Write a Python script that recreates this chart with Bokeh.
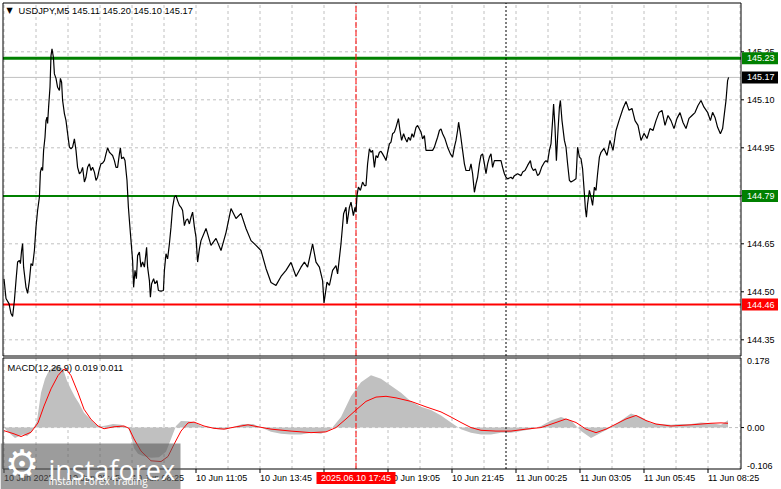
import math
from bokeh.plotting import figure
from bokeh.models import Range1d
from bokeh.core.properties import value
from bokeh.embed import file_html
from bokeh.resources import INLINE

FONT = "Liberation Sans"
FS = "9px"
FS_T = "9.3px"

# ---------------- data ----------------
title_text = "USDJPY,M5  145.11 145.20 145.10 145.17"
macd_text = "MACD(12,26,9) 0.019 0.011"

# (bar index from 10 Jun 03:05 in M5 bars ; close price)
price_pts = [
    (0, 144.541), (1, 144.479), (2.5, 144.463), (3.5, 144.432), (4.3, 144.423), (5.2, 144.473), (6, 144.535),
    (6.8, 144.593), (7.7, 144.598), (8.2, 144.588), (8.8, 144.629), (9.3, 144.651), (9.8, 144.577), (11, 144.514),
    (11.8, 144.495), (12.7, 144.535), (13.5, 144.588), (14.3, 144.582), (15.2, 144.629), (16, 144.702),
    (16.8, 144.754), (17.7, 144.796), (18.2, 144.874), (18.8, 144.889), (19.3, 144.879), (19.8, 144.942),
    (20.5, 144.983), (21, 145.035), (21.5, 145.046), (21.8, 145.026), (22.3, 145.077), (23, 145.139),
    (23.5, 145.238), (24, 145.259), (24.7, 145.233), (25.2, 145.181), (26, 145.167), (26.8, 145.139),
    (27.7, 145.129), (28.2, 145.167), (28.8, 145.155), (29.3, 145.098), (30.2, 145.057), (31, 145.035),
    (31.8, 144.995), (32.7, 144.952), (33.5, 144.947), (34.3, 144.952), (35.2, 144.978), (36, 144.942),
    (36.8, 144.889), (37.7, 144.869), (38.5, 144.874), (39.3, 144.889), (40.2, 144.843), (41, 144.858),
    (41.8, 144.889), (42.7, 144.900), (43.5, 144.879), (44.3, 144.889), (45.2, 144.874), (46, 144.848),
    (46.8, 144.858), (47.7, 144.884), (48.5, 144.900), (49.3, 144.902), (50.2, 144.910), (51, 144.931),
    (51.8, 144.950), (52.7, 144.936), (53.5, 144.931), (54.3, 144.926), (55.2, 144.910), (56, 144.889),
    (56.8, 144.889), (57.7, 144.931), (58.2, 144.950), (58.8, 144.916), (59.7, 144.921), (60.5, 144.910),
    (61.5, 144.848), (62.2, 144.764), (62.7, 144.723), (63.5, 144.660), (64.3, 144.598), (64.8, 144.514),
    (65.5, 144.567), (66.2, 144.541), (66.8, 144.613), (67.7, 144.624), (68.5, 144.577), (69.3, 144.593),
    (70.2, 144.577), (71.3, 144.639), (71.8, 144.577), (72.7, 144.535), (73.2, 144.483), (73.8, 144.525),
    (74.8, 144.541), (75.5, 144.525), (76.5, 144.535), (77.2, 144.504), (78.5, 144.502), (79.7, 144.504),
    (80.2, 144.567), (81, 144.619), (81.8, 144.603), (82.7, 144.650), (83.5, 144.702), (84.3, 144.764),
    (85.2, 144.796), (86, 144.801), (86.8, 144.785), (87.7, 144.770), (88.5, 144.764), (89.3, 144.754),
    (90.2, 144.707), (91, 144.723), (91.8, 144.728), (92.7, 144.712), (93.5, 144.733), (94.3, 144.749),
    (95.2, 144.702), (96, 144.671), (96.8, 144.593), (97.7, 144.634), (98.5, 144.660),
    (101, 144.698), (103.5, 144.645), (106, 144.667), (108.5, 144.629), (111, 144.685), (113.5, 144.760),
    (116, 144.729), (118.5, 144.745), (121, 144.698), (123.5, 144.660), (126, 144.645), (128.5, 144.629),
    (131, 144.573), (133.5, 144.529), (136, 144.520), (138.5, 144.548), (141, 144.567), (143.5, 144.592),
    (146, 144.548),
    (148.5, 144.577), (150.2, 144.593), (151.8, 144.577), (154.3, 144.650), (156, 144.593), (157.7, 144.577),
    (159.3, 144.535), (160, 144.465), (161.5, 144.530), (162.7, 144.520), (164.3, 144.567), (166, 144.582),
    (166.8, 144.556), (168.5, 144.650), (169.8, 144.744), (171, 144.764), (171.5, 144.712), (172.7, 144.764),
    (173.5, 144.780), (174.7, 144.738), (175.5, 144.764), (176, 144.749), (176.5, 144.801), (177.2, 144.827),
    (178.2, 144.817), (179.3, 144.843), (180.2, 144.832), (181, 144.832), (181.8, 144.900), (182.7, 144.947),
    (183.5, 144.936), (184.3, 144.942), (185.2, 144.889), (186, 144.926), (186.8, 144.919), (187.7, 144.936),
    (188.5, 144.939), (189.3, 144.931), (190.2, 144.921), (191, 144.910), (191.8, 144.936), (192.7, 144.962),
    (193.5, 144.968), (194.3, 144.994), (195.2, 144.999), (196, 145.014), (197.2, 145.041), (198, 145.004),
    (198.8, 144.973), (199.8, 144.994), (200.7, 144.978), (201.5, 144.968), (202.3, 144.983), (203.2, 144.973),
    (204, 144.994), (204.8, 144.983), (206, 145.014), (206.8, 145.020), (207.7, 145.009), (208.5, 144.999),
    (209.3, 144.978), (210.2, 144.988), (211, 144.942), (212.7, 144.942), (214.3, 144.942), (215.2, 144.952),
    (216, 144.968), (216.8, 144.983), (217.7, 145.004), (218.5, 145.009), (219.3, 144.994), (220.5, 144.978),
    (221.8, 144.952), (223.2, 144.931), (224.3, 144.921), (225.2, 144.952), (226, 144.973), (226.8, 145.004),
    (227.3, 145.030), (228.2, 144.994), (229.3, 144.942), (230.2, 144.900), (231, 144.879), (232.7, 144.879),
    (233.5, 144.900), (234.3, 144.869), (235.2, 144.811), (236, 144.837), (236.8, 144.858), (237.7, 144.900),
    (238.5, 144.926), (239.3, 144.931), (240.2, 144.900), (241, 144.869), (241.8, 144.900), (242.7, 144.921),
    (243.5, 144.931), (244.3, 144.889), (245.2, 144.910), (248.5, 144.910), (249.3, 144.889), (250.2, 144.869),
    (251, 144.858), (251.8, 144.853), (253.5, 144.858), (254.3, 144.853), (255.2, 144.863), (256.8, 144.869),
    (258.5, 144.863), (259.3, 144.874), (260.5, 144.879), (261.8, 144.895), (263.2, 144.910), (263.8, 144.889),
    (264.7, 144.879), (265.7, 144.884), (266.8, 144.863), (267.7, 144.869), (268.8, 144.889), (270.2, 144.905),
    (271, 144.910), (271.8, 144.905), (272.7, 144.942), (273.5, 144.962), (274.3, 145.035), (274.8, 145.087),
    (275.5, 145.014), (276.2, 144.910), (276.8, 144.983), (277.7, 145.077), (278.2, 145.098), (279, 145.035),
    (280.2, 144.973), (281, 144.952), (281.8, 144.900), (282.7, 144.848), (283.5, 144.843), (284.8, 144.848),
    (286, 144.853), (286.8, 144.952), (287.7, 144.921), (288.5, 144.916), (289.3, 144.884), (290.2, 144.806),
    (290.7, 144.759), (291.2, 144.733), (291.8, 144.775), (292.7, 144.817), (293.5, 144.796), (294.3, 144.770),
    (295.2, 144.827), (296, 144.817), (296.8, 144.869), (297.7, 144.921), (298.5, 144.936),
    (300, 144.948), (301.5, 144.926), (303, 144.973), (304.5, 144.942), (306, 145.004), (307.5, 145.035),
    (309.5, 145.073), (311, 145.095), (312.5, 145.067), (314, 145.073), (315.5, 145.035), (317, 145.020),
    (318.5, 144.973), (320, 144.995), (321.5, 144.979), (323, 145.010), (324.5, 145.004), (326, 145.035),
    (327.5, 145.060), (329, 145.067), (330.5, 145.020), (332, 145.051), (333.5, 145.035), (335, 145.010),
    (336.5, 145.042), (338, 145.060), (339.5, 145.029), (341, 145.010), (342.5, 145.042), (344, 145.051),
    (345.5, 145.060), (347, 145.082), (348.5, 145.098),
    (350, 145.077), (351.8, 145.061), (353.2, 145.035), (354.3, 145.061), (355.5, 145.045), (356.8, 145.014),
    (358.2, 144.994), (359.3, 145.010), (360.2, 145.057), (361, 145.098), (361.8, 145.160), (362.3, 145.170),
]

macd_hist_pts = [
    (0, 0.0), (1.5, -0.009), (3.5, -0.018), (5.5, -0.027), (7.5, -0.022), (9.5, -0.018), (11.5, -0.022),
    (13.5, -0.013), (15, 0.0), (16.5, 0.018), (18.5, 0.089), (20.5, 0.125), (22, 0.141), (23.5, 0.150),
    (26, 0.158), (27.5, 0.157), (29.5, 0.150), (31.5, 0.120), (33.5, 0.098), (35.5, 0.078), (37.5, 0.062),
    (40, 0.038), (42.5, 0.025), (45, 0.012), (47.5, 0.002), (51, 0.005), (54.5, 0.009), (58.5, 0.007),
    (62, 0.0), (63.5, -0.021), (65, -0.053), (67, -0.067), (69.5, -0.073), (73.5, -0.077), (77.5, -0.076),
    (81, -0.062), (83.5, -0.029), (86, 0.004), (88.5, 0.017), (92, 0.016), (95, 0.014), (98.5, 0.004),
    (102.5, 0.0), (107, -0.004), (111, -0.005), (115, 0.002), (119.5, 0.009), (124.5, 0.009), (128.5, 0.0),
    (133.5, -0.011), (138.5, -0.016), (143.5, -0.018), (148.5, -0.018), (153.5, -0.013), (158.5, -0.016),
    (163.5, -0.004), (168.5, 0.027), (173.5, 0.080), (178.5, 0.116), (183.5, 0.134), (188.5, 0.125),
    (193.5, 0.107), (198.5, 0.089), (203.5, 0.067), (208.5, 0.053), (213.5, 0.045), (218.5, 0.031),
    (223.5, 0.013), (228.5, -0.004), (233.5, -0.013), (238.5, -0.018), (243.5, -0.018), (248.5, -0.013),
    (253.5, -0.013), (258.5, -0.009), (263.5, -0.004), (268.5, 0.004), (273.5, 0.018), (278.5, 0.027),
    (283.5, 0.018), (288.5, -0.009), (293.5, -0.027), (298.5, -0.013), (303.5, 0.0), (308.5, 0.018),
    (313.5, 0.036), (318.5, 0.027), (323.5, 0.011), (328.5, 0.009), (333.5, 0.007), (338.5, 0.009),
    (343.5, 0.009), (348.5, 0.013), (353.5, 0.011), (358.5, 0.007), (362, 0.019),
]

macd_signal_pts = [
    (0, -0.008), (5, -0.016), (8.5, -0.023), (13.5, -0.012), (17, 0.012), (20, 0.055), (23.5, 0.099),
    (27, 0.133), (29.5, 0.148), (31, 0.150), (33.5, 0.133), (37, 0.089), (40, 0.047), (43.5, 0.021),
    (47, 0.004), (50, -0.003), (55, 0.002), (60, 0.004), (62.5, -0.002), (65, -0.029), (68.5, -0.060),
    (73.5, -0.085), (78.5, -0.087), (82, -0.074), (85, -0.043), (88.5, -0.009), (92, 0.012), (95, 0.014),
    (100, 0.004), (105, -0.002), (110, -0.004), (115, 0.001), (122, 0.007), (127, 0.002), (133.5, -0.004),
    (143.5, -0.009), (153.5, -0.013), (161, -0.011), (166, 0.0), (171, 0.022), (176, 0.045), (181, 0.067),
    (186, 0.078), (191, 0.080), (196, 0.076), (203.5, 0.067), (211, 0.053), (218.5, 0.040), (223.5, 0.027),
    (228.5, 0.013), (233.5, 0.0), (238.5, -0.007), (246, -0.009), (253.5, -0.009), (261, -0.004),
    (268.5, 0.0), (276, 0.013), (281, 0.022), (286, 0.013), (291, -0.004), (296, -0.013), (301, -0.004),
    (306, 0.009), (311, 0.022), (316, 0.031), (321, 0.018), (326, 0.009), (333.5, 0.004), (343.5, 0.007),
    (353.5, 0.011), (358.5, 0.012), (362, 0.011),
]

time_tick_bars = [0, 32, 64, 96, 128, 160, 192, 224, 256, 288, 320, 352]
time_tick_labels = ["10 Jun 2025", "10 Jun 05:45", "10 Jun 08:25", "10 Jun 11:05", "10 Jun 13:45",
                    "10 Jun 16:25", "10 Jun 19:05", "10 Jun 21:45", "11 Jun 00:25", "11 Jun 03:05",
                    "11 Jun 05:45", "11 Jun 08:25"]
grid_bars = list(range(0, 369, 16))

price_ticks = [144.35, 144.50, 144.65, 144.80, 144.95, 145.10, 145.25]
price_tick_labels = ["144.35", "144.50", "144.65", "144.80", "144.95", "145.10", "145.25"]
level_values = [145.23, 144.799, 144.46]
level_labels = ["145.23", "144.79", "144.46"]
level_colors = ["#008000", "#008000", "#ff0000"]
level_widths = [3, 2, 2]
last_price = 145.17
last_label = "145.17"

macd_top, macd_bottom = 0.178, -0.106
macd_top_label, macd_zero_label, macd_bottom_label = "0.178", "0.00", "-0.106"

cursor_bar = 176
cursor_text = "2025.06.10 17:45"
day_sep_bar = 251

# value extents of the two panels
X0, X1 = -0.5, 368.5
PY0, PY1 = 144.2994, 145.4025
MY0, MY1 = macd_bottom, macd_top

# ---------------- pixel layout (canvas px from top-left) ----------------
W, H = 781, 489
FL, FR = 2.5, 740.5      # panel left / right edge
MT, MB = 2.5, 355.5      # price panel top / bottom
DT, DB = 357.5, 468.5    # MACD panel top / bottom


def xv(px):
    return X0 + (px - FL) * (X1 - X0) / (FR - FL)


def pv(py):
    return PY1 - (py - MT) * (PY1 - PY0) / (MB - MT)


def mv(py):
    return MY1 - (py - DT) * (MY1 - MY0) / (DB - DT)


GRID = "#c0c0c0"
F = value(FONT)

p = figure(width=W, height=H, x_range=Range1d(xv(0), xv(W)), y_range=Range1d(pv(H), pv(0)),
           output_backend="svg", toolbar_location=None, x_axis_location=None, y_axis_location=None,
           min_border=0, min_border_left=0, min_border_right=0, min_border_top=0, min_border_bottom=0)
p.extra_y_ranges = {"macd": Range1d(mv(H), mv(0))}
p.xgrid.visible = False
p.ygrid.visible = False
p.outline_line_color = None
p.background_fill_color = "white"
p.border_fill_color = "white"

M = dict(y_range_name="macd")

# ---- grids ----
p.segment(x0=grid_bars, y0=PY0, x1=grid_bars, y1=PY1, line_color=GRID, line_dash="3 3", line_width=1)
p.segment(x0=grid_bars, y0=MY0, x1=grid_bars, y1=MY1, line_color=GRID, line_dash="3 3", line_width=1, **M)
p.segment(x0=X0, y0=price_ticks, x1=X1, y1=price_ticks, line_color=GRID, line_dash="3 3", line_width=1)
p.segment(x0=X0, y0=0.0, x1=X1, y1=0.0, line_color=GRID, line_dash="3 3", line_width=1, **M)

# ---- price panel ----
p.segment(x0=X0, y0=last_price, x1=X1, y1=last_price, line_color="#c0c0c0", line_width=1)
for v, c, w in zip(level_values, level_colors, level_widths):
    p.segment(x0=X0, y0=v, x1=X1, y1=v, line_color=c, line_width=w)
p.segment(x0=cursor_bar, y0=PY0, x1=cursor_bar, y1=PY1, line_color="#ff0000", line_dash="6 2")
p.segment(x0=day_sep_bar, y0=PY0, x1=day_sep_bar, y1=PY1, line_color="black", line_dash="2 2")

p.line([a for a, _ in price_pts], [b for _, b in price_pts], line_color="black", line_width=1.2)

# ---- MACD panel ----
hb = [a for a, _ in macd_hist_pts]
p.varea(x=hb, y1=[0.0] * len(hb), y2=[b for _, b in macd_hist_pts], fill_color="#c0c0c0",
        fill_alpha=1.0, **M)
p.line([a for a, _ in macd_signal_pts], [b for _, b in macd_signal_pts], line_color="#ff0000",
       line_width=1, **M)
p.segment(x0=cursor_bar, y0=MY0, x1=cursor_bar, y1=MY1, line_color="#ff0000", line_dash="6 2", **M)
p.segment(x0=day_sep_bar, y0=MY0, x1=day_sep_bar, y1=MY1, line_color="black", line_dash="2 2", **M)

# ---- panel frames ----
p.quad(left=X0, right=X1, bottom=PY0, top=PY1, fill_color=None, line_color="black", line_width=1)
p.quad(left=X0, right=X1, bottom=MY0, top=MY1, fill_color=None, line_color="black", line_width=1, **M)

# ---- right price scale ----
p.ray(x=X1, y=price_ticks, length=3, angle=0, length_units="screen", line_color="black")
p.text(x=X1, y=price_ticks, text=price_tick_labels, x_offset=6, text_align="left",
       text_baseline="middle", text_font=F, text_font_size=value(FS), text_color="black")
px_x = (X1 - X0) / (FR - FL)
px_p = (PY1 - PY0) / (MB - MT)
lv = level_values + [last_price]
p.quad(left=X1 + px_x, right=X1 + 37 * px_x, bottom=[v - 6 * px_p for v in lv],
       top=[v + 6 * px_p for v in lv], fill_color=level_colors + ["black"], line_color=None)
p.text(x=X1, y=lv, text=level_labels + [last_label], x_offset=6, text_align="left",
       text_baseline="middle", text_font=F, text_font_size=value(FS), text_color="white")

# ---- right MACD scale ----
p.ray(x=X1, y=[0.0], length=3, angle=0, length_units="screen", line_color="black", **M)
p.text(x=X1, y=[macd_top], text=[macd_top_label], x_offset=6, text_align="left", text_baseline="top",
       text_font=F, text_font_size=value(FS), text_color="black", **M)
p.text(x=X1, y=[0.0], text=[macd_zero_label], x_offset=6, text_align="left", text_baseline="middle",
       text_font=F, text_font_size=value(FS), text_color="black", **M)
p.text(x=X1, y=[macd_bottom], text=[macd_bottom_label], x_offset=6, text_align="left",
       text_baseline="bottom", text_font=F, text_font_size=value(FS), text_color="black", **M)

# ---- time scale ----
p.ray(x=time_tick_bars, y=MY0, length=4, angle=-math.pi / 2, length_units="screen",
      line_color="black", **M)
p.text(x=time_tick_bars, y=mv(477), text=time_tick_labels, text_align="left", text_baseline="middle",
       text_font=F, text_font_size=value(FS), text_color="black", **M)
p.quad(left=cursor_bar - 39.5 * px_x, right=cursor_bar + 39.5 * px_x, bottom=mv(483.5), top=mv(471.5),
       fill_color="#ff0000", line_color=None, **M)
p.text(x=cursor_bar, y=mv(477.5), text=[cursor_text], text_align="center", text_baseline="middle",
       text_font=F, text_font_size=value(FS), text_color="white", **M)

# ---- titles ----
p.text(x=xv(9), y=pv(10), text=["\u25bc"], text_align="center", text_baseline="middle",
       text_font=value("DejaVu Sans"), text_font_size=value("8px"), text_color="black")
p.text(x=xv(18), y=pv(10), text=[title_text], text_align="left", text_baseline="middle",
       text_font=F, text_font_size=value(FS_T), text_color="black")
p.text(x=xv(7), y=mv(367), text=[macd_text], text_align="left", text_baseline="middle",
       text_font=F, text_font_size=value(FS_T), text_color="black", **M)

# ---- watermark ----
p.quad(left=xv(0), right=xv(180), bottom=mv(H), top=mv(443), fill_color="#5a5a5a", fill_alpha=0.6,
       line_color=None, **M)
p.text(x=xv(21.5), y=mv(463), text=["\u2699"], text_align="center", text_baseline="middle",
       text_font=value("DejaVu Sans"), text_font_size=value("38px"), text_color="white", **M)
p.text(x=xv(48), y=mv(469), text=["instaforex"], text_align="left", text_baseline="alphabetic",
       text_font=value("Open Sans"), text_font_size=value("27px"), text_color="white", **M)
p.text(x=xv(48), y=mv(480.5), text=["Instant Forex Trading"], text_align="left",
       text_baseline="middle", text_font=value("Open Sans"), text_font_size=value("10px"),
       text_color="white", **M)

open("out.html", "w").write(file_html(p, INLINE))
